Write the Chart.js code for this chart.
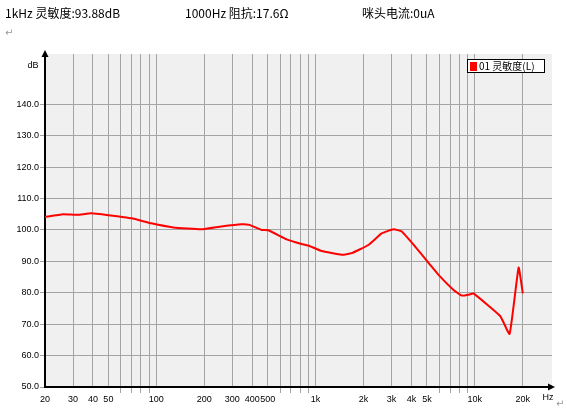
<!DOCTYPE html>
<html>
<head>
<meta charset="utf-8">
<script src="https://cdn.jsdelivr.net/npm/chart.js@4/dist/chart.umd.min.js"></script>
<style>
  body { margin: 0; background: #fff; }
  #wrap { position: relative; width: 567px; height: 414px; }
  .hdr { position: absolute; top: 4px; font: 12px "Noto Sans CJK SC", "Liberation Sans", sans-serif; color: #000; white-space: nowrap; }
  .mark { position: absolute; font: 10px "DejaVu Sans", sans-serif; color: #999; }
</style>
</head>
<body>
<div id="wrap">
  <canvas id="fr" width="567" height="414"></canvas>
  <div class="hdr" style="left:5px">1kHz 灵敏度:93.88dB</div>
  <div class="hdr" style="left:185px">1000Hz 阻抗:17.6Ω</div>
  <div class="hdr" style="left:362px">咪头电流:0uA</div>
  <div class="mark" style="left:5px; top:27px">↵</div>
  <div class="mark" style="left:556px; top:398px">↵</div>
</div>
<script>
// frequency response
const freqs = [20, 26, 32, 39, 50, 70, 93, 128, 192, 256, 343, 384, 458, 505, 658, 817, 916,
    1091, 1459, 1684, 2145, 2600, 3083, 3475, 4218, 5238, 5915, 7350, 8283, 9340, 9800,
    14420, 16520, 18820, 20000];
const levels = [104.1, 105.0, 104.8, 105.3, 104.7, 103.7, 102.1, 100.8, 100.2, 101.1, 101.8, 101.6, 100.0, 99.9, 97.0, 95.5, 94.9,
    93.3, 92.1, 92.6, 95.2, 98.9, 100.2, 99.5, 94.7, 88.9, 85.7, 80.9, 79.1, 79.5, 79.8,
    72.6, 66.9, 88.0, 79.8];
const seriesName = '01 灵敏度(L)';

// x grid lines and which of them carry a label
const gridFreqs = [20, 30, 40, 50, 60, 70, 80, 90, 100, 200, 300, 400, 500, 600, 700, 800, 900,
    1000, 2000, 3000, 4000, 5000, 6000, 7000, 8000, 9000, 10000, 20000];
const freqLabels = {20: '20', 30: '30', 40: '40', 50: '50', 100: '100', 200: '200', 300: '300',
    400: '400', 500: '500', 1000: '1k', 2000: '2k', 3000: '3k', 4000: '4k', 5000: '5k',
    10000: '10k', 20000: '20k'};
const dbTicks = [50, 60, 70, 80, 90, 100, 110, 120, 130, 140];

const GRID = '#a4a4a4';
const tickFont = { family: 'Liberation Sans', size: 9 };

// plot background, axis arrows, unit labels and the boxed legend
const decorPlugin = {
    id: 'decor',
    beforeDraw(chart) {
        const { ctx, chartArea: a } = chart;
        ctx.save();
        ctx.fillStyle = '#f0f0f0';
        ctx.fillRect(a.left, a.top, a.right - a.left, a.bottom - a.top);
        ctx.restore();
    },
    afterDraw(chart) {
        const { ctx, chartArea: a } = chart;
        ctx.save();
        ctx.fillStyle = '#000';
        // y arrow
        ctx.beginPath();
        ctx.moveTo(a.left, a.top - 4);
        ctx.lineTo(a.left - 3.5, a.top + 3);
        ctx.lineTo(a.left + 3.5, a.top + 3);
        ctx.fill();
        // x arrow
        ctx.beginPath();
        ctx.moveTo(a.right + 3, a.bottom);
        ctx.lineTo(a.right - 4, a.bottom - 3.5);
        ctx.lineTo(a.right - 4, a.bottom + 3.5);
        ctx.fill();

        ctx.font = '9px "Liberation Sans"';
        ctx.textAlign = 'center';
        ctx.textBaseline = 'middle';
        ctx.fillText('dB', 33, 66);
        ctx.fillText('Hz', 548, 398);

        // legend
        const ds = chart.data.datasets[0];
        ctx.fillStyle = '#fff';
        ctx.fillRect(467.5, 59.5, 77, 13);
        ctx.strokeStyle = '#000';
        ctx.lineWidth = 1;
        ctx.strokeRect(467.5, 59.5, 77, 13);
        ctx.fillStyle = ds.borderColor;
        ctx.fillRect(470, 62, 7, 9);
        ctx.fillStyle = '#000';
        ctx.textAlign = 'left';
        ctx.font = '10px "Noto Sans CJK SC"';
        ctx.fillText(ds.label, 479, 66.5);
        ctx.restore();
    }
};

new Chart(document.getElementById('fr'), {
    type: 'line',
    data: {
        datasets: [{
            label: seriesName,
            data: freqs.map((f, i) => ({ x: f, y: levels[i] })),
            borderColor: '#ff0000',
            borderWidth: 2,
            pointRadius: 0,
            tension: 0.12,
            fill: false
        }]
    },
    options: {
        responsive: false,
        animation: false,
        layout: { padding: { top: 54, right: 15, left: 0, bottom: 0 } },
        plugins: { legend: { display: false }, tooltip: { enabled: false } },
        scales: {
            x: {
                type: 'logarithmic',
                min: 20,
                max: 30500,
                afterBuildTicks: s => { s.ticks = gridFreqs.map(v => ({ value: v })); },
                afterFit: s => { s.height = 27; },
                ticks: {
                    autoSkip: false,
                    maxRotation: 0,
                    padding: 1,
                    color: '#000',
                    font: tickFont,
                    callback: v => freqLabels[v] || ''
                },
                grid: {
                    color: GRID,
                    lineWidth: 1,
                    tickLength: 6,
                    tickColor: c => (freqLabels[c.tick.value] ? 'rgba(0,0,0,0)' : GRID)
                },
                border: { color: '#000', width: 2 }
            },
            y: {
                min: 50,
                max: 156,
                afterBuildTicks: s => { s.ticks = dbTicks.map(v => ({ value: v })); },
                afterFit: s => { s.width = 45; },
                ticks: {
                    padding: 1,
                    color: '#000',
                    font: tickFont,
                    callback: v => v.toFixed(1)
                },
                grid: { color: GRID, lineWidth: 1, tickLength: 5, tickColor: GRID },
                border: { color: '#000', width: 2 }
            }
        }
    },
    plugins: [decorPlugin]
});
</script>
</body>
</html>
